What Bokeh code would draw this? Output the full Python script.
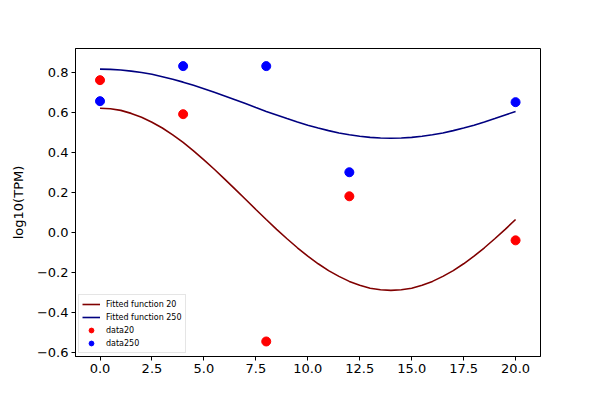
from bokeh.plotting import figure
from bokeh.models import FixedTicker, Legend, LegendItem, Range1d
from bokeh.embed import file_html
from bokeh.resources import INLINE

# measured data points
x_data = [0, 4, 8, 12, 20]
data20 = [0.76, 0.59, -0.545, 0.18, -0.04]
data250 = [0.655, 0.83, 0.83, 0.30, 0.65]

# fitted curves (every 0.5)
x_fit = [0, 0.5, 1, 1.5, 2, 2.5, 3, 3.5, 4, 4.5, 5, 5.5, 6, 6.5, 7, 7.5, 8, 8.5, 9, 9.5,
         10, 10.5, 11, 11.5, 12, 12.5, 13, 13.5, 14, 14.5, 15, 15.5, 16, 16.5, 17, 17.5,
         18, 18.5, 19, 19.5, 20]
fit20 = [0.620, 0.617, 0.609, 0.594, 0.575, 0.550, 0.521, 0.487, 0.449, 0.407, 0.362,
         0.315, 0.266, 0.216, 0.165, 0.114, 0.064, 0.015, -0.032, -0.077, -0.119,
         -0.157, -0.191, -0.220, -0.245, -0.264, -0.279, -0.287, -0.290, -0.287, -0.279,
         -0.264, -0.245, -0.220, -0.191, -0.157, -0.119, -0.077, -0.032, 0.015, 0.064]
fit250 = [0.815, 0.814, 0.811, 0.805, 0.798, 0.789, 0.777, 0.764, 0.750, 0.734, 0.717,
          0.699, 0.681, 0.662, 0.643, 0.623, 0.604, 0.586, 0.568, 0.551, 0.535,
          0.521, 0.508, 0.496, 0.487, 0.480, 0.474, 0.471, 0.470, 0.471, 0.474,
          0.480, 0.487, 0.496, 0.508, 0.521, 0.535, 0.551, 0.568, 0.586, 0.604]

x_ticks = [0, 2.5, 5, 7.5, 10, 12.5, 15, 17.5, 20]
x_tick_labels = ["0.0", "2.5", "5.0", "7.5", "10.0", "12.5", "15.0", "17.5", "20.0"]
y_ticks = [-0.6, -0.4, -0.2, 0.0, 0.2, 0.4, 0.6, 0.8]
y_tick_labels = ["\u22120.6", "\u22120.4", "\u22120.2", "0.0", "0.2", "0.4", "0.6", "0.8"]

FONT = "DejaVu Sans"

p = figure(width=600, height=400, output_backend="svg", toolbar_location=None,
           x_range=Range1d(-1.18, 21.2), y_range=Range1d(-0.62, 0.918),
           min_border_left=75, min_border_right=60, min_border_top=48, min_border_bottom=44)
p.grid.visible = False
p.outline_line_color = "black"
p.outline_line_width = 1
p.background_fill_color = "white"
p.border_fill_color = "white"

l20 = p.line(x_fit, fit20, line_color="#800000", line_width=1.6)
l250 = p.line(x_fit, fit250, line_color="#000080", line_width=1.6)
s20 = p.scatter(x_data, data20, size=9, fill_color="red", line_color="red")
s250 = p.scatter(x_data, data250, size=9, fill_color="blue", line_color="blue")

p.xaxis.ticker = FixedTicker(ticks=x_ticks)
p.xaxis.major_label_overrides = {t: l for t, l in zip(x_ticks, x_tick_labels)}
p.yaxis.ticker = FixedTicker(ticks=y_ticks)
p.yaxis.major_label_overrides = {t: l for t, l in zip(y_ticks, y_tick_labels)}
p.yaxis.axis_label = "log10(TPM)"

for ax in (p.xaxis[0], p.yaxis[0]):
    ax.major_tick_out = 4
    ax.major_tick_in = 0
    ax.minor_tick_out = 0
    ax.minor_tick_in = 0
    ax.major_label_standoff = 3
    ax.major_label_text_font = FONT
    ax.major_label_text_font_size = "13px"
    ax.major_label_text_color = "black"
    ax.axis_line_color = "black"
    ax.major_tick_line_color = "black"
    ax.axis_label_text_font = FONT
    ax.axis_label_text_font_size = "13px"
    ax.axis_label_text_font_style = "normal"
    ax.axis_label_text_color = "black"
    ax.axis_label_standoff = 8

legend = Legend(items=[
    LegendItem(label="Fitted function 20", renderers=[l20]),
    LegendItem(label="Fitted function 250", renderers=[l250]),
    LegendItem(label="data20", renderers=[s20]),
    LegendItem(label="data250", renderers=[s250]),
], location="bottom_left")
legend.label_text_font = FONT
legend.label_text_font_size = "8px"
legend.label_text_color = "black"
legend.glyph_width = 18
legend.glyph_height = 12
legend.label_height = 12
legend.label_standoff = 6
legend.spacing = 1
legend.padding = 3
legend.margin = 3
legend.border_line_color = "#cccccc"
legend.border_line_width = 1
legend.background_fill_alpha = 0.8
p.add_layout(legend, "center")

open("out.html", "w").write(file_html(p, INLINE))
